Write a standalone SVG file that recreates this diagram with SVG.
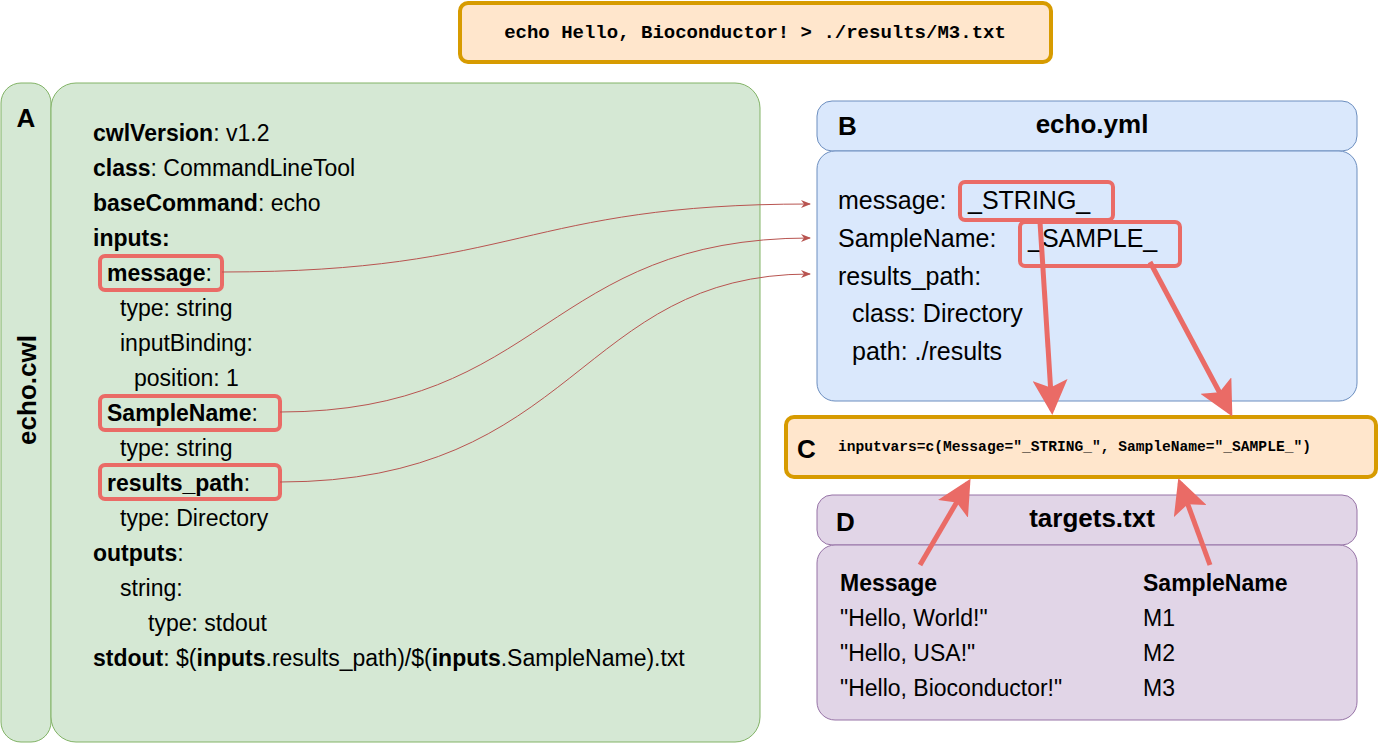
<svg xmlns="http://www.w3.org/2000/svg" width="1379" height="744" viewBox="0 0 1379 744">
<style>
.t{font-family:"Liberation Sans",Arial,sans-serif;font-size:23px;fill:#000}
.l{font-size:26px}
.y{font-size:25px}
.b{font-weight:bold}
.m{font-family:"Liberation Mono","Courier New",monospace;font-weight:bold;fill:#000}
.hl{fill:none;stroke:#ea6b66;stroke-width:4}
.thin{fill:none;stroke:#b85450;stroke-width:1}
.thick{fill:none;stroke:#ea6b66;stroke-width:5}
</style>
<defs>
<marker id="a1" markerWidth="10" markerHeight="8" refX="9" refY="4" orient="auto" markerUnits="userSpaceOnUse"><path d="M0,0 L10,4 L0,8 L3,4 Z" fill="#b85450"/></marker>
<marker id="a2" markerWidth="8" markerHeight="7" refX="6" refY="3.5" orient="auto"><path d="M0,0 L7,3.5 L0,7 L1.5,3.5 Z" fill="#ea6b66"/></marker>
</defs>
<rect width="1379" height="744" fill="#fff"/>
<g id="top">
<rect x="460" y="3" width="591" height="59" rx="8" fill="#ffe6cc" stroke="#d79b00" stroke-width="4"/>
<text class="m" x="755" y="38" style="font-size:19px" text-anchor="middle">echo Hello, Bioconductor! &gt; ./results/M3.txt</text>
</g>
<g id="A">
<rect x="1" y="83" width="50" height="659" rx="20" fill="#d5e8d4" stroke="#82b366"/>
<text class="t b l" x="26" y="127" text-anchor="middle">A</text>
<text class="t b l" transform="translate(36,390) rotate(-90)" text-anchor="middle">echo.cwl</text>
<rect x="51" y="83" width="709" height="659" rx="25" fill="#d5e8d4" stroke="#82b366"/>
<text class="t" x="93" y="141"><tspan class="b">cwlVersion</tspan>: v1.2</text>
<text class="t" x="93" y="176"><tspan class="b">class</tspan>: CommandLineTool</text>
<text class="t" x="93" y="211"><tspan class="b">baseCommand</tspan>: echo</text>
<text class="t b" x="93" y="246">inputs:</text>
<text class="t" x="107" y="281"><tspan class="b">message</tspan>:</text>
<text class="t" x="120" y="316">type: string</text>
<text class="t" x="120" y="351">inputBinding:</text>
<text class="t" x="134" y="386">position: 1</text>
<text class="t" x="107" y="421"><tspan class="b">SampleName</tspan>:</text>
<text class="t" x="120" y="456">type: string</text>
<text class="t" x="107" y="491"><tspan class="b">results_path</tspan>:</text>
<text class="t" x="120" y="526">type: Directory</text>
<text class="t" x="93" y="561"><tspan class="b">outputs</tspan>:</text>
<text class="t" x="120" y="596">string:</text>
<text class="t" x="148" y="631">type: stdout</text>
<text class="t" x="93" y="666"><tspan class="b">stdout</tspan>: $(<tspan class="b">inputs</tspan>.results_path)/$(<tspan class="b">inputs</tspan>.SampleName).txt</text>
<rect class="hl" x="100" y="256" width="122" height="34" rx="5"/>
<rect class="hl" x="100" y="396" width="180" height="34" rx="5"/>
<rect class="hl" x="100" y="465" width="180" height="34" rx="5"/>
</g>
<g id="B">
<rect x="817" y="101" width="540" height="50" rx="15" fill="#dae8fc" stroke="#6c8ebf"/>
<text class="t b l" x="838" y="135">B</text>
<text class="t b l" x="1092" y="133" text-anchor="middle">echo.yml</text>
<rect x="817" y="151" width="540" height="250" rx="18" fill="#dae8fc" stroke="#6c8ebf"/>
<text class="t y" x="838" y="209">message: <tspan x="968">_STRING_</tspan></text>
<text class="t y" x="838" y="247">SampleName: <tspan x="1028">_SAMPLE_</tspan></text>
<text class="t y" x="838" y="285">results_path:</text>
<text class="t y" x="852" y="322">class: Directory</text>
<text class="t y" x="852" y="360">path: ./results</text>
<rect class="hl" x="960" y="182" width="153" height="38" rx="5"/>
<rect class="hl" x="1020" y="222" width="160" height="44" rx="5"/>
</g>
<g id="C">
<rect x="786" y="417" width="590" height="60" rx="8" fill="#ffe6cc" stroke="#d79b00" stroke-width="4"/>
<text class="t b l" x="797" y="458">C</text>
<text class="m" x="838" y="451" style="font-size:14.6px">inputvars=c(Message="_STRING_", SampleName="_SAMPLE_")</text>
</g>
<g id="D">
<rect x="817" y="495" width="540" height="50" rx="15" fill="#e1d5e7" stroke="#9673a6"/>
<text class="t b l" x="836" y="531">D</text>
<text class="t b l" x="1092" y="527" text-anchor="middle">targets.txt</text>
<rect x="817" y="545" width="540" height="175" rx="18" fill="#e1d5e7" stroke="#9673a6"/>
<text class="t b" x="840" y="591">Message</text>
<text class="t b" x="1143" y="591">SampleName</text>
<text class="t" x="840" y="626">"Hello, World!"</text>
<text class="t" x="1143" y="626">M1</text>
<text class="t" x="840" y="661">"Hello, USA!"</text>
<text class="t" x="1143" y="661">M2</text>
<text class="t" x="840" y="696">"Hello, Bioconductor!"</text>
<text class="t" x="1143" y="696">M3</text>
</g>
<g id="connectors">
<path class="thin" d="M222,272 C521,272 521,204 810,204" marker-end="url(#a1)"/>
<path class="thin" d="M280,412 C545,412 545,238 810,238" marker-end="url(#a1)"/>
<path class="thin" d="M280,482 C578,482 578,274 810,274" marker-end="url(#a1)"/>
<path class="thick" d="M1040,222 L1052,410" marker-end="url(#a2)"/>
<path class="thick" d="M1150,262 L1230,412" marker-end="url(#a2)"/>
<path class="thick" d="M920,565 L968,483" marker-end="url(#a2)"/>
<path class="thick" d="M1210,565 L1180,483" marker-end="url(#a2)"/>
</g>
</svg>
